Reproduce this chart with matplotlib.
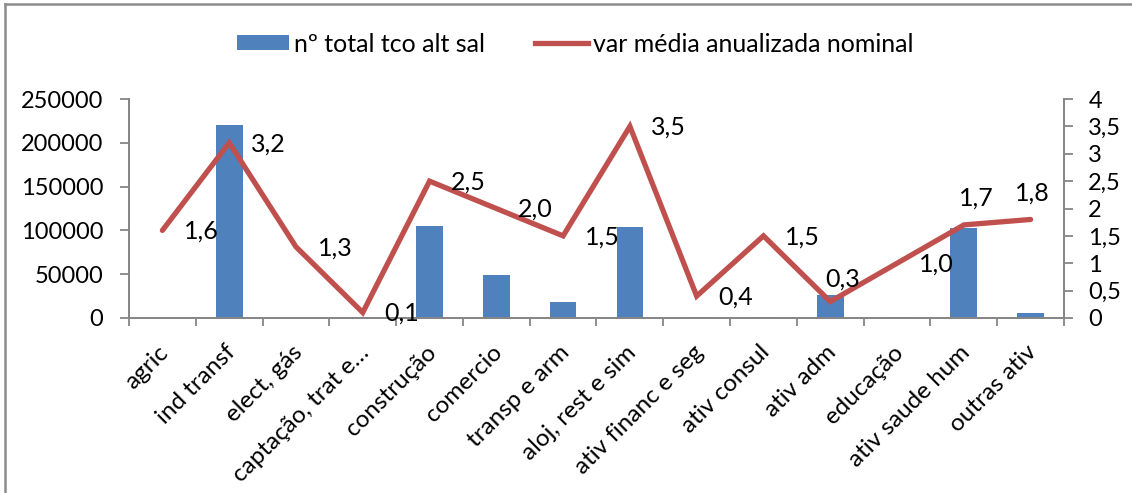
import matplotlib
matplotlib.use("Agg")
import matplotlib.pyplot as plt
import matplotlib.transforms as mtransforms
from matplotlib.lines import Line2D
from matplotlib.patches import Patch
import numpy as np

plt.rcParams['font.family'] = ['Lato', 'DejaVu Sans']

categories = ["agric", "ind transf", "elect, gás", "captação, trat e…", "construção",
              "comercio", "transp e arm", "aloj, rest e sim", "ativ financ e seg",
              "ativ consul", "ativ adm", "educação", "ativ saude hum", "outras ativ"]
total_tco = [0, 220000, 0, 0, 105000, 49000, 18000, 104000, 1000, 1300, 26000, 600, 102500, 5400]
var_media = [1.6, 3.2, 1.3, 0.1, 2.5, 2.0, 1.5, 3.5, 0.4, 1.5, 0.3, 1.0, 1.7, 1.8]
left_ticks = [0, 50000, 100000, 150000, 200000, 250000]
right_ticks = [0, 0.5, 1, 1.5, 2, 2.5, 3, 3.5, 4]

bar_color = "#4F81BD"
line_color = "#C0504D"
axis_color = "#868686"
FS_TICK = 17
FS_CAT = 17.5
FS_LAB = 18
FS_LEG = 18

W, H = 1132, 493
fig = plt.figure(figsize=(W / 100, H / 100), dpi=100)
ax = fig.add_axes([129 / W, 1 - 318 / H, (1064 - 129) / W, (318 - 99) / H])
ax2 = ax.twinx()

x = np.arange(len(categories))
ax.bar(x, total_tco, width=0.4, color=bar_color, zorder=2)
ax.set_xlim(-0.5, len(categories) - 0.5)
ax.set_ylim(0, 250000)
ax.set_yticks(left_ticks)
ax.set_yticklabels([str(t) for t in left_ticks], fontsize=FS_TICK)

ax2.plot(x, var_media, color=line_color, linewidth=3.8, solid_capstyle='round',
         solid_joinstyle='miter', zorder=3)
ax2.set_ylim(0, 4)
ax2.set_yticks(right_ticks)
ax2.set_yticklabels([("%g" % t).replace('.', ',') for t in right_ticks], fontsize=FS_TICK)

# data label placement (pixel offsets of label centre from its point)
default_off = (39, -1)
special_off = {10: (12, 22), 12: (13, 27), 13: (2, 26)}
for i, (xi, v) in enumerate(zip(x, var_media)):
    dx, dy = special_off.get(i, default_off)
    ax2.annotate(("%.1f" % v).replace('.', ','), (xi, v),
                 xytext=(dx * 0.72, dy * 0.72), textcoords='offset points',
                 ha='center', va='center', fontsize=FS_LAB, zorder=4)

# x ticks at category boundaries, category names drawn as rotated texts
ax.set_xticks(np.arange(-0.5, len(categories), 1))
ax.set_xticklabels([])
ax.tick_params(axis='x', length=6, color=axis_color, width=1.3)
cat_trans = mtransforms.blended_transform_factory(ax.transData, ax.transAxes) + \
    mtransforms.ScaledTranslation(3 / 100, -31 / 100, fig.dpi_scale_trans)
for xi, name in zip(x, categories):
    ax.text(xi, 0, name, transform=cat_trans, rotation=45, rotation_mode='anchor',
            ha='right', va='center', fontsize=FS_CAT, clip_on=False)

ax.tick_params(axis='y', length=6.5, color=axis_color, width=1.3, pad=12)
ax2.tick_params(axis='y', length=6.5, color=axis_color, width=1.3, pad=11)

for a in (ax, ax2):
    a.spines['top'].set_visible(False)
    for s in ('left', 'right', 'bottom'):
        a.spines[s].set_color(axis_color)
        a.spines[s].set_linewidth(1.3)

handles = [Patch(facecolor=bar_color, label="nº total tco alt sal"),
           Line2D([0], [0], color=line_color, linewidth=3.8, label="var média anualizada nominal")]
fig.legend(handles=handles, loc='center', bbox_to_anchor=(575 / W, 1 - 44 / H),
           ncol=2, frameon=False, fontsize=FS_LEG, handlelength=2.1, handleheight=0.55,
           handletextpad=0.2, columnspacing=2.0)

# outer chart frame (only left and top edges visible)
fig.add_artist(Line2D([5 / W, 5 / W], [0, 1 - 4 / H], color="#8C8C8C", linewidth=1.8,
                      transform=fig.transFigure))
fig.add_artist(Line2D([5 / W, 1], [1 - 4 / H, 1 - 4 / H], color="#8C8C8C", linewidth=1.8,
                      transform=fig.transFigure))

fig.savefig("out.png", dpi=100)
